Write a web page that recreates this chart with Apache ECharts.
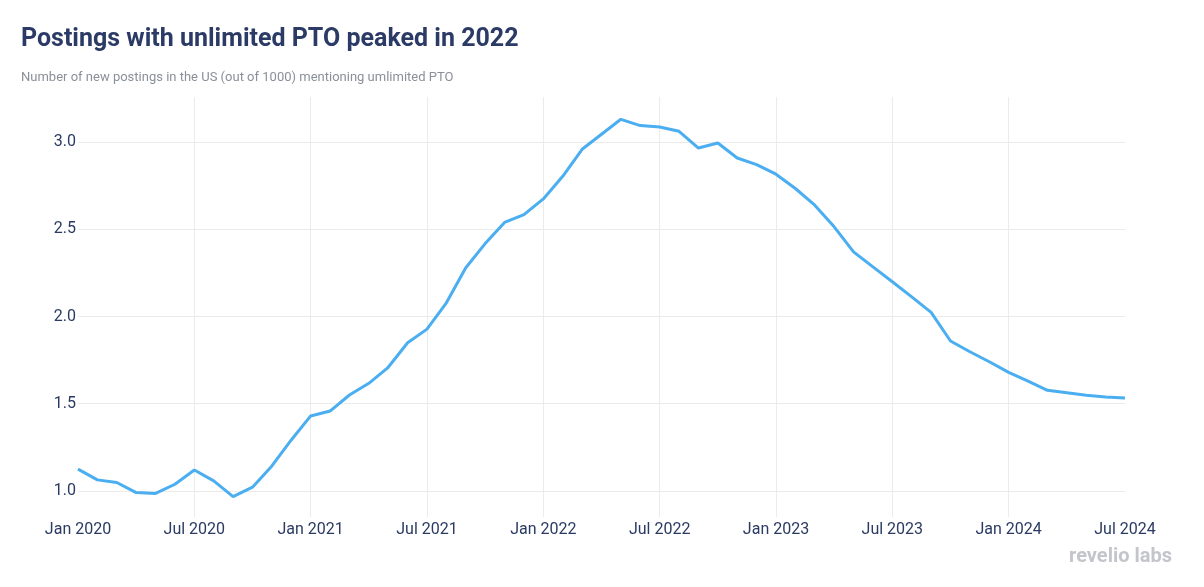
<!DOCTYPE html>
<html>
<head>
<meta charset="utf-8">
<script src="https://cdn.jsdelivr.net/npm/echarts@6/dist/echarts.min.js"></script>
<style>
html,body{margin:0;padding:0;background:#fff;}
#chart{width:1204px;height:587px;}
</style>
</head>
<body>
<div id="chart"></div>
<script>
const months = [
  "Jan 2020","Feb 2020","Mar 2020","Apr 2020","May 2020","Jun 2020","Jul 2020","Aug 2020","Sep 2020","Oct 2020","Nov 2020","Dec 2020",
  "Jan 2021","Feb 2021","Mar 2021","Apr 2021","May 2021","Jun 2021","Jul 2021","Aug 2021","Sep 2021","Oct 2021","Nov 2021","Dec 2021",
  "Jan 2022","Feb 2022","Mar 2022","Apr 2022","May 2022","Jun 2022","Jul 2022","Aug 2022","Sep 2022","Oct 2022","Nov 2022","Dec 2022",
  "Jan 2023","Feb 2023","Mar 2023","Apr 2023","May 2023","Jun 2023","Jul 2023","Aug 2023","Sep 2023","Oct 2023","Nov 2023","Dec 2023",
  "Jan 2024","Feb 2024","Mar 2024","Apr 2024","May 2024","Jun 2024","Jul 2024"
];
const unlimitedPto = [
  1.125, 1.063, 1.048, 0.990, 0.985, 1.038, 1.120, 1.057, 0.967, 1.021, 1.143, 1.292,
  1.430, 1.458, 1.550, 1.617, 1.709, 1.850, 1.928, 2.079, 2.280, 2.419, 2.540, 2.585,
  2.675, 2.805, 2.960, 3.046, 3.132, 3.096, 3.088, 3.063, 2.967, 2.996, 2.910, 2.872,
  2.817, 2.735, 2.639, 2.515, 2.371, 2.285, 2.200, 2.113, 2.024, 1.860, 1.798, 1.741,
  1.680, 1.630, 1.577, 1.563, 1.548, 1.539, 1.533
];
const yTicks = [1.0, 1.5, 2.0, 2.5, 3.0];
const titleText = "Postings with unlimited PTO peaked in 2022";
const subtitleText = "Number of new postings in the US (out of 1000) mentioning umlimited PTO";
const watermark = "revelio labs";

const navy = "#2a3a62";
const chart = echarts.init(document.getElementById('chart'));
chart.setOption({
  animation: false,
  backgroundColor: '#ffffff',
  title: [
    {
      text: titleText, left: 21, top: 25, padding: 0,
      textStyle: {fontFamily: 'Roboto', fontSize: 25, fontWeight: 'bold', color: '#2b3b66', lineHeight: 30}
    },
    {
      text: subtitleText, left: 21, top: 70, padding: 0,
      textStyle: {fontFamily: 'Roboto', fontSize: 13, fontWeight: 'normal', color: '#8a9099', lineHeight: 16}
    }
  ],
  grid: {left: 78, right: 79, top: 97, bottom: 70, containLabel: false},
  xAxis: {
    type: 'category',
    data: months,
    boundaryGap: false,
    axisLine: {show: false},
    axisTick: {show: false},
    axisLabel: {interval: 5, margin: 5, fontFamily: 'Roboto', fontSize: 16, color: navy, showMinLabel: true, showMaxLabel: true},
    splitLine: {show: true, interval: 5, showMinLine: false, showMaxLine: false, lineStyle: {color: '#ebebeb', width: 1}}
  },
  yAxis: {
    type: 'value',
    min: 0.85, max: 3.26,
    axisLine: {show: false},
    axisTick: {show: false, customValues: yTicks},
    axisLabel: {customValues: yTicks, margin: 2, fontFamily: 'Roboto', fontSize: 16, color: navy,
      formatter: v => v.toFixed(1)},
    splitLine: {show: true, lineStyle: {color: '#ebebeb', width: 1}}
  },
  series: [{
    type: 'line',
    data: unlimitedPto,
    symbol: 'none',
    lineStyle: {color: '#4aaef0', width: 3},
    itemStyle: {color: '#4aaef0'},
    z: 5
  }],
  graphic: [{
    type: 'text',
    right: 32, top: 547,
    style: {text: watermark, font: 'bold 20px Roboto', fill: '#c3c5cb'}
  }]
});
</script>
</body>
</html>
